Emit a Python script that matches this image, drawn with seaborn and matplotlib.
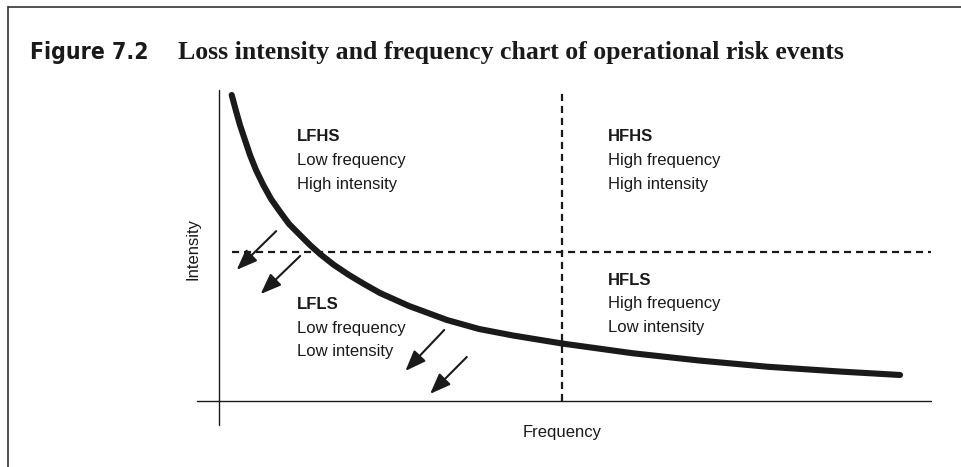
import numpy as np
import pandas as pd
import matplotlib
matplotlib.use("Agg")
import matplotlib.pyplot as plt
import seaborn as sns
from matplotlib.lines import Line2D

# curve (frequency, intensity in 0-100 units)
frequency = [1.80, 2.41, 2.97, 3.68, 4.39, 5.24, 6.27, 7.37, 8.64, 9.92, 11.47, 12.89, 14.31,
             16.29, 18.41, 20.54, 22.80, 26.91, 32.29, 36.83, 41.64, 48.58, 58.64, 67.99,
             77.62, 87.82, 96.46]
intensity = [98.71, 93.55, 89.03, 84.19, 79.35, 74.52, 69.68, 65.16, 61.06, 57.10, 53.55, 50.32,
             47.42, 43.87, 40.65, 37.74, 34.84, 30.65, 26.13, 23.23, 21.13, 18.55, 15.39, 13.06,
             11.06, 9.52, 8.39]

# quadrant dividers
freq_split = 48.6
int_split = 48.1

# arrows: tail -> head
arrow_tail_x = [8.1, 11.5, 31.9, 35.1]
arrow_tail_y = [54.8, 46.8, 22.9, 14.2]
arrow_head_x = [2.5, 5.9, 26.4, 29.9]
arrow_head_y = [42.3, 34.5, 9.7, 2.3]

# quadrant labels
quad_codes = ["LFHS", "HFHS", "LFLS", "HFLS"]
quad_line1 = ["Low frequency", "High frequency", "Low frequency", "High frequency"]
quad_line2 = ["High intensity", "High intensity", "Low intensity", "Low intensity"]
quad_x = [11.05, 55.1, 11.05, 55.1]
quad_y = [[83.8, 76.1, 68.5], [83.8, 76.1, 68.5], [29.8, 22.0, 14.5], [37.5, 30.0, 22.3]]

fig_title = "Loss intensity and frequency chart of operational risk events"

sns.set_theme(style="white")
plt.rcParams["font.family"] = ["Liberation Sans", "DejaVu Sans"]

fig = plt.figure(figsize=(9.62, 4.67), dpi=100)
ax = fig.add_axes([0.1983, 0.0816, 0.7706, 0.7368])
ax.set_xlim(-4, 101)
ax.set_ylim(-9, 102)
ax.axis("off")

df = pd.DataFrame({"Frequency": frequency, "Intensity": intensity})
sns.lineplot(data=df, x="Frequency", y="Intensity", ax=ax, color="#1a1a1a",
             lw=4.4, solid_capstyle="round", solid_joinstyle="round", zorder=3)

# axes lines (crossing)
ax.plot([-3.1, 100.8], [0, 0], color="#1a1a1a", lw=1.0)
ax.plot([0, 0], [-7.7, 100.3], color="#1a1a1a", lw=1.0)

# dashed dividers
ax.plot([freq_split, freq_split], [0, 99.7], color="#1a1a1a", lw=1.6,
        ls=(0, (3.2, 2.2)))
ax.plot([1.8, 100.8], [int_split, int_split], color="#1a1a1a", lw=1.6,
        ls=(0, (3.2, 2.2)))

for tx, ty, hx, hy in zip(arrow_tail_x, arrow_tail_y, arrow_head_x, arrow_head_y):
    ax.annotate("", xy=(hx, hy), xytext=(tx, ty),
                arrowprops=dict(arrowstyle="-|>,head_length=0.7,head_width=0.27",
                                lw=1.5, color="#1a1a1a", mutation_scale=18,
                                shrinkA=0, shrinkB=0))

for code, l1, l2, qx, qy in zip(quad_codes, quad_line1, quad_line2, quad_x, quad_y):
    ax.text(qx, qy[0], code, fontsize=12, fontweight="bold", color="#1a1a1a", va="baseline")
    ax.text(qx, qy[1], l1, fontsize=12, color="#1a1a1a", va="baseline")
    ax.text(qx, qy[2], l2, fontsize=12, color="#1a1a1a", va="baseline")

ax.text(48.6, -10.3, "Frequency", fontsize=12, color="#1a1a1a", ha="center", va="center")
ax.text(-3.7, 49, "Intensity", fontsize=12, color="#1a1a1a", ha="center", va="center",
        rotation=90)

# title
fig.text(30 / 962, 1 - 59 / 467, "Figure 7.2", fontsize=16.5, fontweight="heavy",
         fontstretch="condensed", family=["DejaVu Sans"], color="#1a1a1a", va="baseline")
fig.text(178 / 962, 1 - 59 / 467, fig_title, fontsize=18.5, fontweight="bold",
         family=["Liberation Serif", "DejaVu Serif"], color="#1a1a1a", va="baseline")

# frame lines (top and left)
fig.add_artist(Line2D([8 / 962, 1.0], [1 - 7 / 467, 1 - 7 / 467], color="#333333", lw=1.2))
fig.add_artist(Line2D([8 / 962, 8 / 962], [0.0, 1 - 7 / 467], color="#333333", lw=1.2))

fig.savefig("out.png", dpi=100, facecolor="white")
